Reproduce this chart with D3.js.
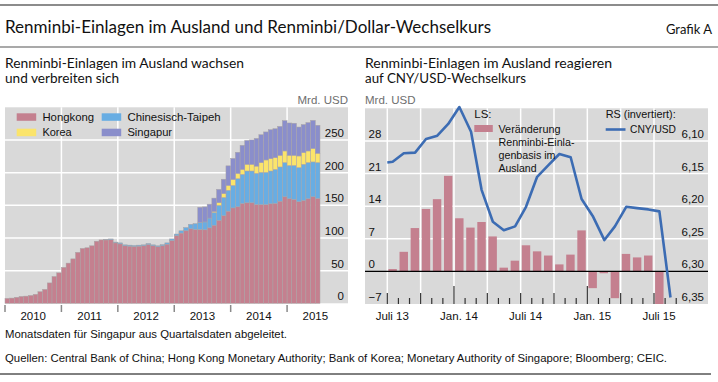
<!DOCTYPE html>
<html><head><meta charset="utf-8">
<script src="https://cdn.jsdelivr.net/npm/d3@7"></script>
<style>
body{margin:0;background:#fff}
svg{display:block}
text{font-family:"Liberation Sans",Arial,sans-serif;fill:#111}
.hd{font-family:Lato,"Open Sans",sans-serif}
</style>
</head><body>
<svg id="c" width="718" height="382"></svg>
<script>
// ---------------- DATA: left panel (Mrd. USD, monthly from Jan 2010 to Jul 2015) ----------------
const leftStart = "2010-01";
const hongkong = [
  7.5, 8, 9.2, 10.5, 11, 12, 13.7, 17.7, 21.3, 31.2, 41, 46.6,
  55, 61.5, 68, 78, 84, 85, 88, 95, 97, 97, 97.5, 92.5,
  91, 88, 87.5, 87, 87.5, 88, 90, 88, 86.5, 88, 90.5, 96,
  103.5, 107.5, 111, 114, 113, 113, 112.5, 115.5, 119.5, 127, 134, 141,
  146, 147.7, 152.8, 153.8, 153.8, 151.2, 151, 151, 152.3, 153, 156.3, 163,
  160, 159, 155.4, 157.4, 160, 163, 160.5
];
const taipeh = [
  0, 0, 0, 0, 0, 0, 0, 0, 0, 0, 0, 0,
  0, 0, 0, 0, 0, 0, 0, 0, 0, 0.8, 1, 1.2,
  1.5, 1.5, 1.5, 1.5, 1.5, 1.5, 1.5, 1.5, 1.5, 1.8, 2, 2.5,
  2.5, 3.5, 5, 7, 9, 11, 12, 15, 19.5, 23, 28, 32,
  34.5, 43, 44.6, 48.7, 48.7, 47.8, 49.5, 49.5, 50.2, 52, 52.4, 52.4,
  51, 52, 52.3, 55.4, 55.4, 53.4, 54.9
];
const korea = [
  0, 0, 0, 0, 0, 0, 0, 0, 0, 0, 0, 0,
  0, 0, 0, 0, 0, 0, 0, 0, 0, 0, 0, 0,
  0, 0, 0, 0, 0, 0, 0, 0, 0, 0, 0, 0,
  0, 0, 0, 0, 0, 0, 0, 0, 1.5, 4, 6, 7.5,
  9, 8.2, 7.6, 10.3, 10.3, 11, 14.9, 18.9, 19, 18, 17.9, 17.8,
  15.6, 15.6, 17.8, 17.9, 17.8, 20.6, 14.3
];
const singapur = [
  0, 0, 0, 0, 0, 0, 0, 0, 0, 0, 0, 0,
  0, 0, 0, 0, 0, 0, 0, 0, 0, 0, 0, 0,
  0, 0, 0, 0, 0, 0, 0, 0, 0, 0, 0, 0,
  0, 0, 0, 0, 0, 23, 23, 21.2, 20.5, 20.4, 21.9, 29.9,
  32.3, 32.3, 36.8, 36.5, 37.3, 42.4, 42.6, 42.9, 44.2, 44.2, 44.2, 46.4,
  49.4, 49, 44.3, 42.9, 43.4, 43, 42.8
];
const seriesNames = ["Hongkong", "Chinesisch-Taipeh", "Korea", "Singapur"];
const yearLabels = ["2010", "2011", "2012", "2013", "2014", "2015"];
const leftYTicks = [0, 50, 100, 150, 200, 250];

// ---------------- DATA: right panel ----------------
const rightStart = "2013-07";
const depositChange = [0.5, 4.2, 9.3, 13.4, 15.5, 20.5, 11.4, 9.4, 10.6, 7.5, 0.8, 2.3, 5.6,
  4.3, 3.4, 1.5, 3.6, 8.8, -3.6, -0.4, -5.75, 3.75, 3.0, 3.4, -7.5];
const lineDates = ["2013-07-01", "2013-07-16", "2013-08-16", "2013-09-16", "2013-10-16", "2013-11-16",
  "2013-12-16", "2014-01-16", "2014-02-16", "2014-03-16", "2014-04-16", "2014-05-16", "2014-06-16",
  "2014-07-16", "2014-08-16", "2014-09-16", "2014-10-16", "2014-11-16", "2014-12-16", "2015-01-16",
  "2015-02-16", "2015-03-16", "2015-04-16", "2015-05-16", "2015-06-16", "2015-07-16", "2015-08-16"];
const cnyUsd = [6.133, 6.132, 6.119, 6.118, 6.097, 6.092, 6.074, 6.048, 6.086, 6.175, 6.224, 6.237,
  6.231, 6.201, 6.155, 6.137, 6.120, 6.125, 6.189, 6.215, 6.252, 6.231, 6.201, 6.203, 6.205, 6.208, 6.340];
const rightLeftTicks = [-7, 0, 7, 14, 21, 28];
const rightRightTicks = [6.35, 6.30, 6.25, 6.20, 6.15, 6.10];
const rightXLabelMonths = ["2013-07", "2014-01", "2014-07", "2015-01", "2015-07"];
const rightXLabels = ["Juli 13", "Jan. 14", "Juli 14", "Jan. 15", "Juli 15"];
const rightTickEnd = "2015-09";

// ---------------- drawing ----------------
const svg = d3.select("#c");
const colors = {"Hongkong":"#c4808f","Chinesisch-Taipeh":"#68ade3","Korea":"#fbe46b","Singapur":"#8a8ecb"};
const grey = "#d9d9d9";
const parseM = d3.utcParse("%Y-%m");
const parseD = d3.utcParse("%Y-%m-%d");
function monthsBetween(a, b){ return (b.getUTCFullYear()-a.getUTCFullYear())*12 + (b.getUTCMonth()-a.getUTCMonth()); }
function txt(sel, x, y, t, size, len){
  const e = sel.append("text").attr("x",x).attr("y",y).attr("font-size",size).text(t);
  if (len) e.attr("textLength",len).attr("lengthAdjust","spacingAndGlyphs");
  return e;
}

// header
svg.append("line").attr("x1",0).attr("x2",718).attr("y1",5).attr("y2",5).attr("stroke","#8c8c8c").attr("stroke-width",2);
svg.append("text").attr("class","hd").attr("x",5).attr("y",33).attr("font-size",17.5)
  .attr("textLength",486).attr("lengthAdjust","spacingAndGlyphs")
  .text("Renminbi-Einlagen im Ausland und Renminbi/Dollar-Wechselkurs");
svg.append("text").attr("class","hd").attr("x",712).attr("y",34).attr("font-size",13).attr("text-anchor","end").text("Grafik A");
svg.append("line").attr("x1",0).attr("x2",718).attr("y1",47).attr("y2",47).attr("stroke","#8c8c8c").attr("stroke-width",1.5);

// subtitles
const sub = [[5, ["Renminbi-Einlagen im Ausland wachsen","und verbreiten sich"], [239,114]],
             [365, ["Renminbi-Einlagen im Ausland reagieren","auf CNY/USD-Wechselkurs"], [247,161]]];
sub.forEach(s => s[1].forEach((t,i) => svg.append("text").attr("class","hd").attr("x",s[0]).attr("y",68.3+i*15)
  .attr("font-size",13.2).attr("textLength",s[2][i]).attr("lengthAdjust","spacingAndGlyphs").text(t)));

// ===== LEFT PANEL =====
const xL = d3.scaleLinear().domain([0,72]).range([5,343.5]);
const yL = d3.scaleLinear().domain([0,300]).range([303.3,107.3]);
const gL = svg.append("g");
gL.append("rect").attr("x",5).attr("y",yL(300)).attr("width",343).attr("height",yL(0)-yL(300)).attr("fill",grey);
gL.selectAll(".hg").data(leftYTicks.filter(d=>d>0)).join("line")
  .attr("x1",5).attr("x2",348).attr("y1",d=>yL(d)).attr("y2",d=>yL(d)).attr("stroke","#fff").attr("stroke-width",1.5);
gL.selectAll(".vg").data(yearLabels.slice(1)).join("line")
  .attr("x1",(d,i)=>xL((i+1)*12)).attr("x2",(d,i)=>xL((i+1)*12)).attr("y1",yL(300)).attr("y2",yL(0))
  .attr("stroke","#fff").attr("stroke-width",1.5);

const rows = hongkong.map((v,i)=>({i, "Hongkong":v, "Chinesisch-Taipeh":taipeh[i], "Korea":korea[i], "Singapur":singapur[i]}));
const stack = d3.stack().keys(seriesNames.slice().sort((a,b)=>["Hongkong","Chinesisch-Taipeh","Korea","Singapur"].indexOf(a)-["Hongkong","Chinesisch-Taipeh","Korea","Singapur"].indexOf(b)))(rows);
stack.forEach(layer => {
  gL.append("g").selectAll("rect").data(layer.filter(d=>d[1]-d[0]>0)).join("rect")
    .attr("x",d=>xL(d.data.i)).attr("width",xL(1)-xL(0))
    .attr("y",d=>yL(d[1])).attr("height",d=>yL(d[0])-yL(d[1]))
    .attr("fill",colors[layer.key]).attr("stroke","#a9a4a6").attr("stroke-width",0.5);
});
// y labels
gL.selectAll(".yl").data(leftYTicks).join("text")
  .attr("x",344).attr("y",d=>yL(d)-3).attr("text-anchor","end").attr("font-size",11.5).text(d=>d);
svg.append("text").attr("x",348).attr("y",104).attr("text-anchor","end").attr("font-size",11.5).style("fill","#6e6e6e").text("Mrd. USD");
// x ticks and labels
gL.selectAll(".xt").data(yearLabels).join("line")
  .attr("x1",(d,i)=>xL(i*12)).attr("x2",(d,i)=>xL(i*12)).attr("y1",305).attr("y2",312)
  .attr("stroke","#8a8a8a").attr("stroke-width",1.5);
gL.selectAll(".xl").data(yearLabels).join("text")
  .attr("x",(d,i)=>xL(i*12+6)).attr("y",319.5).attr("text-anchor","middle").attr("font-size",11.5).text(d=>d);
// legend
const legL = [["Hongkong",16.7,113.3,51.7],["Chinesisch-Taipeh",101.7,113.3,93.3],["Korea",16.7,128.7,29.3],["Singapur",101.7,128.7,44.7]];
legL.forEach(l=>{
  svg.append("rect").attr("x",l[1]).attr("y",l[2]).attr("width",19.5).attr("height",7.5).attr("fill",colors[l[0]]);
  txt(svg, l[1]+25.7, l[2]+7.3, l[0], 11.5, l[3]);
});

// ===== RIGHT PANEL =====
const rStart = parseM(rightStart);
const xR = d3.scaleLinear().domain([0,24]).range([387.3,654]);
const yR = d3.scaleLinear().domain([-7,35]).range([304,108.3]);
const yR2 = d3.scaleLinear().domain([6.35,6.05]).range([304,108.3]);
const gR = svg.append("g");
gR.append("rect").attr("x",365).attr("y",yR(35)).attr("width",343).attr("height",yR(-7)-yR(35)).attr("fill",grey);
gR.append("clipPath").attr("id","rc").append("rect").attr("x",365).attr("y",yR(35)).attr("width",343).attr("height",yR(-7)-yR(35));
gR.selectAll(".hg").data(rightLeftTicks.filter(d=>d>0)).join("line")
  .attr("x1",365).attr("x2",708).attr("y1",d=>yR(d)).attr("y2",d=>yR(d)).attr("stroke","#fff").attr("stroke-width",1.5);
const tickEndIdx = monthsBetween(rStart, parseM(rightTickEnd));
const monthIdx = d3.range(0, tickEndIdx+1);
gR.selectAll(".vg").data(monthIdx.filter(i=>i%3===0 && i<=24)).join("line")
  .attr("x1",d=>xR(d)).attr("x2",d=>xR(d)).attr("y1",yR(35)).attr("y2",yR(-7)).attr("stroke","#fff").attr("stroke-width",1.5);
// bars
const bw = (xR(1)-xR(0));
gR.append("g").attr("clip-path","url(#rc)").selectAll("rect").data(depositChange).join("rect")
  .attr("x",(d,i)=>xR(i)+bw*0.1).attr("width",bw*0.76)
  .attr("y",d=>yR(Math.max(0,d))).attr("height",d=>Math.abs(yR(d)-yR(0)))
  .attr("fill","#c4808f");
// zero line
gR.append("line").attr("x1",365).attr("x2",708).attr("y1",yR(0)).attr("y2",yR(0)).attr("stroke","#000").attr("stroke-width",1.3);
// month ticks
gR.selectAll(".mt").data(monthIdx).join("line")
  .attr("x1",d=>xR(d)).attr("x2",d=>xR(d)).attr("y1",yR(-7))
  .attr("y2",d=>{ const m=(rStart.getUTCMonth()+d)%12; return yR(-7) - (m===0?18:(m%3===0?11:6)); })
  .attr("stroke","#333").attr("stroke-width",1.2);
// line
function fracIdx(s){ const d=parseD(s); const m0=d3.utcMonth.floor(d), m1=d3.utcMonth.offset(m0,1);
  return monthsBetween(rStart,m0) + (d-m0)/(m1-m0); }
const lineData = lineDates.map((s,i)=>({x:fracIdx(s), v:cnyUsd[i]}));
gR.append("path").datum(lineData).attr("fill","none").attr("stroke","#3c6cb3").attr("stroke-width",2.6)
  .attr("stroke-linejoin","round").attr("d",d3.line().x(d=>xR(d.x)).y(d=>yR2(d.v)));
// axis labels
gR.selectAll(".yl").data(rightLeftTicks).join("text")
  .attr("x",368.5).attr("y",d=>yR(d)-3).attr("font-size",11.5).text(d=>d<0?"\u2212"+Math.abs(d):d);
gR.selectAll(".yr").data(rightRightTicks).join("text")
  .attr("x",704).attr("y",d=>yR2(d)-3).attr("text-anchor","end").attr("font-size",11.5).text(d=>d.toFixed(2).replace(".",","));
svg.append("text").attr("x",365).attr("y",104).attr("font-size",11.5).style("fill","#6e6e6e").text("Mrd. USD");
gR.selectAll(".xl").data(rightXLabels).join("text")
  .attr("x",(d,i)=>xR(monthsBetween(rStart,parseM(rightXLabelMonths[i]))+0.45)).attr("y",319.5)
  .attr("text-anchor","middle").attr("font-size",11.5).text(d=>d);
// legend
txt(svg, 474.3, 118, "LS:", 11.5);
svg.append("rect").attr("x",474.3).attr("y",125).attr("width",18.5).attr("height",7).attr("fill","#c4808f");
[["Veränderung",62],["Renminbi-Einla-",76],["genbasis im",57],["Ausland",38]].forEach((t,i)=>
  txt(svg, 498.5, 133+i*12.9, t[0], 11.5, t[1]));
txt(svg, 605.7, 117.5, "RS (invertiert):", 11.5, 70);
svg.append("line").attr("x1",605.7).attr("x2",625.5).attr("y1",129.5).attr("y2",129.5).attr("stroke","#3c6cb3").attr("stroke-width",2.6);
txt(svg, 630, 132.5, "CNY/USD", 11.5, 46);

// footer
svg.append("text").attr("x",5).attr("y",338).attr("font-size",11).attr("textLength",282).attr("lengthAdjust","spacingAndGlyphs")
  .text("Monatsdaten für Singapur aus Quartalsdaten abgeleitet.");
svg.append("text").attr("x",5).attr("y",362).attr("font-size",11).attr("textLength",662).attr("lengthAdjust","spacingAndGlyphs")
  .text("Quellen: Central Bank of China; Hong Kong Monetary Authority; Bank of Korea; Monetary Authority of Singapore; Bloomberg; CEIC.");
svg.append("line").attr("x1",0).attr("x2",711).attr("y1",374).attr("y2",374).attr("stroke","#000").attr("stroke-width",1);
</script>
</body></html>
